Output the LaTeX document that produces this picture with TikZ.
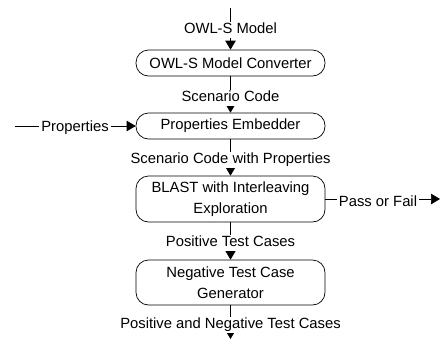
\documentclass[tikz,border=0pt]{standalone}
\usepackage{fontspec}
\setmainfont{Liberation Sans}
\usetikzlibrary{arrows.meta}
\tikzset{
  stage/.style={draw, line width=0.7pt, rounded corners=12.5pt, minimum width=189pt,
    align=center, inner sep=2pt, font=\fontsize{14.8}{21}\selectfont},
  flow/.style={line width=0.7pt, -{Triangle[width=10.5pt,length=9pt]}},
  tag/.style={fill=white, inner xsep=2pt, inner ysep=1pt, anchor=base,
    text height=10.6pt, text depth=3pt, font=\fontsize{14.8}{18}\selectfont}
}
\begin{document}
\begin{tikzpicture}[x=1pt,y=-1pt]
\useasboundingbox (0,0) rectangle (442,346);

% processing stages
\node[stage, minimum height=26pt] (b1) at (230.5,63) {OWL-S Model Converter};
\node[stage, minimum height=26pt] (b2) at (230.5,126) {Properties Embedder};
\node[stage, minimum height=46pt] (b3) at (230.5,199) {BLAST with Interleaving\\Exploration};
\node[stage, minimum height=45pt] (b4) at (230.5,282.5) {Negative Test Case\\Generator};

% free ends of the connectors
\coordinate (src) at (230.5,8);
\coordinate (pin) at (15,126);
\coordinate (pout) at (440,199);
\coordinate (sink) at (230.5,339);

% connectors
\draw[flow] (src) -- (b1.north);
\draw[flow] (b1.south) -- (b2.north);
\draw[flow] (b2.south) -- (b3.north);
\draw[flow] (b3.south) -- (b4.north);
\draw[flow] (b4.south) -- (sink);
\draw[flow] (pin) -- (b2.west);
\draw[flow] (b3.east) -- (pout);

% data labels
\node[tag] (t1) at (230.5,33.5) {OWL-S Model};
\node[tag] (t2) at (230.5,101.5) {Scenario Code};
\node[tag] (t3) at (230.5,163.5) {Scenario Code with Properties};
\node[tag] (t4) at (230.5,246.5) {Positive Test Cases};
\node[tag] (t5) at (230.5,328.5) {Positive and Negative Test Cases};
\node[tag] (t6) at (75,131.5) {Properties};
\node[tag] (t7) at (378,206) {Pass or Fail};
\end{tikzpicture}
\end{document}
